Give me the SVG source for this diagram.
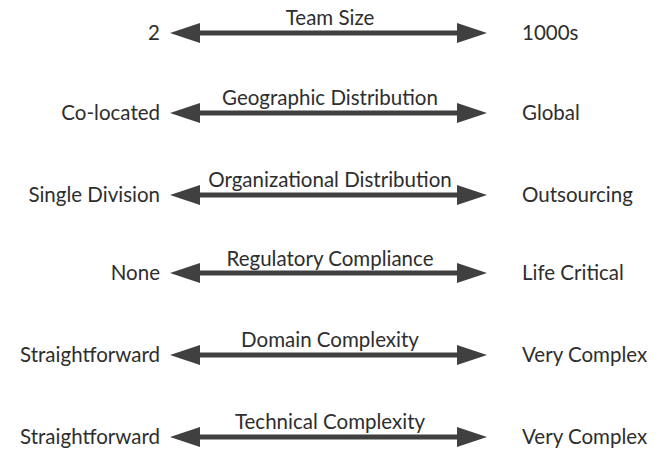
<svg xmlns="http://www.w3.org/2000/svg" width="664" height="450" viewBox="0 0 664 450">
<style>
text{font-family:Lato,"Liberation Sans",sans-serif;font-size:20.5px;fill:#2e2e2e}
.l{text-anchor:end}
.c{text-anchor:middle}
.arr{fill:#404040}
</style>
<defs>
<path id="a" d="M170,0 L200,-10 L200,-2.5 L457,-2.5 L457,-10 L487,0 L457,10 L457,2.5 L200,2.5 L200,10 Z"/>
</defs>
<rect width="664" height="450" fill="#fff"/>
<g id="connectors" class="arr">
<use href="#a" y="33"/>
<use href="#a" y="113"/>
<use href="#a" y="195"/>
<use href="#a" y="273"/>
<use href="#a" y="355"/>
<use href="#a" y="437"/>
</g>
<g id="team-size"><text class="l" x="160" y="40">2</text><text class="c" x="330" y="25">Team Size</text><text x="522" y="40">1000s</text></g>
<g id="geographic"><text class="l" x="160" y="120">Co-located</text><text class="c" x="330" y="105">Geographic Distribution</text><text x="522" y="120">Global</text></g>
<g id="organizational"><text class="l" x="160" y="202">Single Division</text><text class="c" x="330" y="187">Organizational Distribution</text><text x="522" y="202">Outsourcing</text></g>
<g id="regulatory"><text class="l" x="160" y="280">None</text><text class="c" x="330" y="266">Regulatory Compliance</text><text x="522" y="280">Life Critical</text></g>
<g id="domain"><text class="l" x="160" y="362">Straightforward</text><text class="c" x="330" y="347">Domain Complexity</text><text x="522" y="362">Very Complex</text></g>
<g id="technical"><text class="l" x="160" y="444">Straightforward</text><text class="c" x="330" y="429">Technical Complexity</text><text x="522" y="444">Very Complex</text></g>
</svg>
